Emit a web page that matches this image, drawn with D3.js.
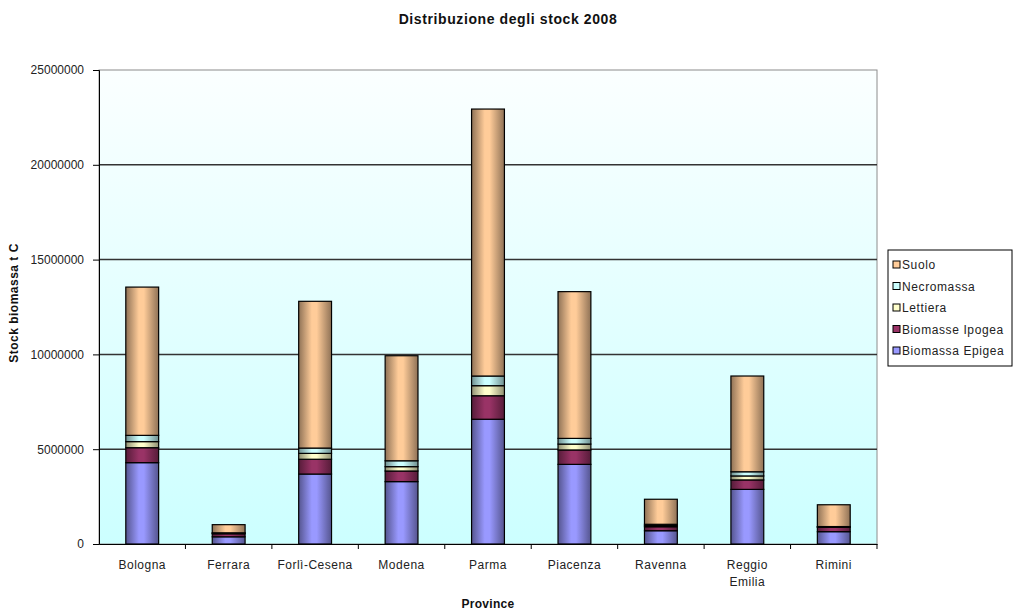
<!DOCTYPE html>
<html><head><meta charset="utf-8">
<script src="https://cdn.jsdelivr.net/npm/d3@7"></script>
<style>body{margin:0;background:#fff;} text{font-family:"Liberation Sans",Arial,sans-serif;}</style>
</head><body>
<svg id="c" width="1013" height="615"></svg>
<script>
const categories = ["Bologna","Ferrara","Forlì-Cesena","Modena","Parma","Piacenza","Ravenna","Reggio Emilia","Rimini"];
const seriesNames = ["Biomassa Epigea","Biomasse Ipogea","Lettiera","Necromassa","Suolo"];
const epigea     = [4290000, 380000, 3690000, 3290000, 6580000, 4200000, 700000, 2880000, 650000];
const ipogea     = [ 790000, 160000,  780000,  560000, 1240000,  760000, 210000,  500000, 230000];
const lettiera   = [ 320000,  30000,  310000,  230000,  530000,  310000,  60000,  210000,  20000];
const necromassa = [ 330000,  20000,  280000,  310000,  510000,  300000,  70000,  220000,  20000];
const suolo      = [7820000, 430000, 7740000, 5540000,14080000, 7740000,1320000, 5050000,1150000];
const yTicks = [0,5000000,10000000,15000000,20000000,25000000];
const seriesColors = ["#9999FF","#993366","#FFFFCC","#CCFFFF","#FFCC99"];
const seriesEdges  = ["#55558f","#561c39","#8f8f72","#6f8f8f","#8f7256"];

const values = [epigea, ipogea, lettiera, necromassa, suolo];
const rows = categories.map((c,i)=>{const o={cat:c}; seriesNames.forEach((s,j)=>o[s]=values[j][i]); return o;});
const stacked = d3.stack().keys(seriesNames)(rows);

const svg = d3.select("#c");
const m = {l:99, r:877, t:70, b:544};
const x = d3.scaleBand().domain(categories).range([m.l,m.r]).paddingInner(0.62).paddingOuter(0.31);
const y = d3.scaleLinear().domain([0,25000000]).range([m.b,m.t]);

const defs = svg.append("defs");
const bg = defs.append("linearGradient").attr("id","bg").attr("x1",0).attr("y1",0).attr("x2",0).attr("y2",1);
bg.append("stop").attr("offset","0%").attr("stop-color","#fbffff");
bg.append("stop").attr("offset","100%").attr("stop-color","#ccffff");
seriesNames.forEach((s,j)=>{
  const g = defs.append("linearGradient").attr("id","g"+j).attr("x1",0).attr("y1",0).attr("x2",1).attr("y2",0);
  g.append("stop").attr("offset","0%").attr("stop-color",seriesEdges[j]);
  g.append("stop").attr("offset","40%").attr("stop-color",seriesColors[j]);
  g.append("stop").attr("offset","55%").attr("stop-color",seriesColors[j]);
  g.append("stop").attr("offset","100%").attr("stop-color",seriesEdges[j]);
});

svg.append("rect").attr("x",m.l).attr("y",m.t).attr("width",m.r-m.l).attr("height",m.b-m.t)
  .attr("fill","url(#bg)").attr("stroke","#8c8c8c").attr("stroke-width",1);

svg.append("g").selectAll("line").data(yTicks.filter(d=>d>0 && d<25000000)).join("line")
  .attr("x1",m.l).attr("x2",m.r).attr("y1",d=>y(d)).attr("y2",d=>y(d))
  .attr("stroke","#333").attr("stroke-width",1.5);

svg.append("g").selectAll("g").data(stacked).join("g")
  .attr("fill",(d,j)=>"url(#g"+j+")")
  .selectAll("rect").data(d=>d).join("rect")
  .attr("x",d=>x(d.data.cat)).attr("width",x.bandwidth())
  .attr("y",d=>y(d[1])).attr("height",d=>y(d[0])-y(d[1]))
  .attr("stroke","#000").attr("stroke-width",1.2);

const yAxis = svg.append("g").attr("transform",`translate(${m.l},0)`)
  .call(d3.axisLeft(y).tickValues(yTicks).tickFormat(d3.format("d")).tickSize(6).tickPadding(9));
yAxis.select(".domain").attr("stroke","#000");
yAxis.selectAll(".tick line").attr("stroke","#000");
yAxis.selectAll("text").attr("font-size","12px").attr("fill","#222").attr("font-family","'Liberation Sans',Arial,sans-serif");

const xAxis = svg.append("g").attr("transform",`translate(0,${m.b})`)
  .call(d3.axisBottom(x).tickSize(0).tickPadding(16).tickFormat(""));
xAxis.select(".domain").attr("stroke","#000");
const step = x.step();
xAxis.selectAll(".tick").append("line")
  .attr("x1",step/2).attr("x2",step/2).attr("y1",0).attr("y2",5).attr("stroke","#000");
xAxis.selectAll(".tick").append("text")
  .attr("fill","#222").attr("font-size","12px").attr("letter-spacing","0.5px").attr("text-anchor","middle")
  .attr("font-family","'Liberation Sans',Arial,sans-serif")
  .each(function(d){
    const parts = d==="Reggio Emilia" ? ["Reggio","Emilia"] : [d];
    d3.select(this).selectAll("tspan").data(parts).join("tspan")
      .attr("x",0).attr("y",(p,i)=>25+i*17).text(p=>p);
  });

svg.append("text").attr("x",508).attr("y",24).attr("text-anchor","middle")
  .attr("font-size","14px").attr("font-weight","bold").attr("letter-spacing","0.6px").attr("fill","#111").text("Distribuzione degli stock 2008");
svg.append("text").attr("x",488).attr("y",608).attr("text-anchor","middle")
  .attr("font-size","12px").attr("font-weight","bold").attr("letter-spacing","0.3px").attr("fill","#111").text("Province");
svg.append("text").attr("transform","translate(18,303) rotate(-90)").attr("text-anchor","middle")
  .attr("font-size","12px").attr("font-weight","bold").attr("letter-spacing","0.5px").attr("fill","#111").text("Stock biomassa t C");

const lg = svg.append("g").attr("transform","translate(888,250)");
lg.append("rect").attr("x",0).attr("y",0).attr("width",124).attr("height",116)
  .attr("fill","#fff").attr("stroke","#000").attr("stroke-width",1);
const order = [4,3,2,1,0];
const li = lg.selectAll("g.item").data(order).join("g").attr("class","item")
  .attr("transform",(d,i)=>`translate(5,${19+i*21.5})`);
li.append("rect").attr("x",0).attr("y",-8).attr("width",7).attr("height",7)
  .attr("fill",d=>seriesColors[d]).attr("stroke","#000").attr("stroke-width",1);
li.append("text").attr("x",9).attr("y",0).attr("font-size","12px").attr("letter-spacing","0.6px").attr("fill","#222")
  .text(d=>seriesNames[d]);
</script>
</body></html>
